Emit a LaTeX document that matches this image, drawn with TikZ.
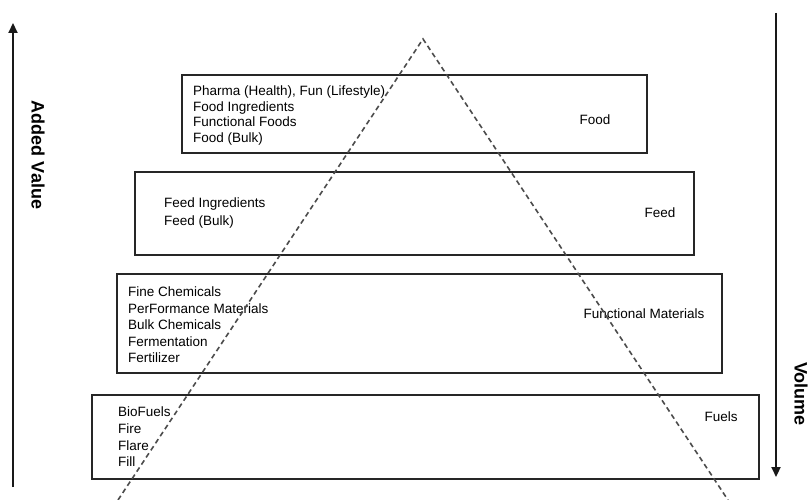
\documentclass[tikz,border=0pt]{standalone}
\usepackage{fontspec}
\setmainfont{Liberation Sans}
\usetikzlibrary{arrows.meta}
\begin{document}
\begin{tikzpicture}[x=1pt,y=-1pt,
  tierbox/.style={draw=black!85,line width=1.8pt,inner sep=0pt,anchor=north west},
  itemtext/.style={inner sep=0pt,anchor=north west,align=left,
     font=\fontsize{13.5}{16}\selectfont},
  tierlabel/.style={inner sep=0pt,font=\fontsize{13.5}{16}\selectfont},
  axislabel/.style={inner sep=0pt,rotate=-90,font=\fontsize{18}{20}\selectfont\bfseries},
  axisarrow/.style={draw=black!90,line width=2.2pt,-{Triangle[length=10pt,width=9pt]}},
  pyramid/.style={draw=black!70,line width=1.6pt,dash pattern=on 5pt off 3.5pt}
]
\useasboundingbox[fill=white] (0,0) rectangle (811,500);

% tiers
\node[tierbox,minimum width=465pt,minimum height=78pt] (food) at (181,74) {};
\node[tierbox,minimum width=559pt,minimum height=83pt] (feed) at (134,171) {};
\node[tierbox,minimum width=605pt,minimum height=99pt] (func) at (116,273) {};
\node[tierbox,minimum width=667pt,minimum height=84pt] (fuel) at (91,394) {};

% item lists
\node[itemtext,font=\fontsize{13.5}{15.4}\selectfont] (foodlist) at (193,85)
  {\strut Pharma (Health), Fun (Lifestyle)\\Food Ingredients\\Functional Foods\\Food (Bulk)};
\node[itemtext,font=\fontsize{13.5}{18}\selectfont] (feedlist) at (164,195)
  {\strut Feed Ingredients\\Feed (Bulk)};
\node[itemtext,font=\fontsize{13.5}{16.5}\selectfont] (funclist) at (128,285)
  {\strut Fine Chemicals\\PerFormance Materials\\Bulk Chemicals\\Fermentation\\Fertilizer};
\node[itemtext,font=\fontsize{13.5}{16.6}\selectfont] (fuellist) at (118,405)
  {\strut BioFuels\\Fire\\Flare\\Fill};

% tier labels
\node[tierlabel] (foodlab) at (595,120) {Food};
\node[tierlabel] (feedlab) at (660,213) {Feed};
\node[tierlabel] (funclab) at (644,314) {Functional Materials};
\node[tierlabel] (fuellab) at (721,417) {Fuels};

% pyramid
\coordinate (apex) at (423,39);
\coordinate (baseL) at (118,500);
\coordinate (baseR) at (728,500);
\draw[pyramid] (baseL) -- (apex) -- (baseR);

% axes
\coordinate (avlow) at (13,487);
\coordinate (avhigh) at (13,23);
\draw[axisarrow] (avlow) -- (avhigh);
\node[axislabel] (avlab) at (38,155) {Added Value};

\coordinate (voltop) at (776,13);
\coordinate (volbot) at (776,477);
\draw[axisarrow] (voltop) -- (volbot);
\node[axislabel] (vollab) at (801,394) {Volume};
\end{tikzpicture}
\end{document}
